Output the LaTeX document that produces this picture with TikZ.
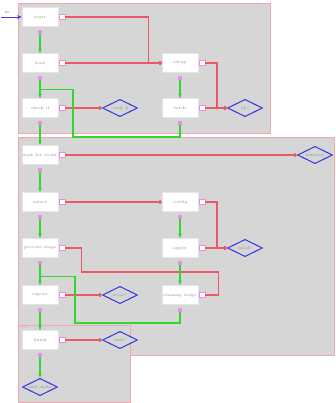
\documentclass[tikz,border=0pt]{standalone}
\usepackage{xcolor}
\usepackage{tikz}
\usetikzlibrary{shapes.geometric, arrows.meta, positioning, calc}
\definecolor{framefill}{HTML}{D6D6D6}
\definecolor{framedraw}{HTML}{F2A7B0}
\definecolor{ctrldraw}{HTML}{EC5866}
\definecolor{datadraw}{HTML}{2ED82E}
\definecolor{decdraw}{HTML}{3A3AE0}
\definecolor{portdraw}{HTML}{E58FE5}
\definecolor{txtgray}{HTML}{8A8A8A}
\tikzset{
  frm/.style={fill=framefill, draw=framedraw, line width=0.6pt},
  frmlab/.style={font=\fontsize{3}{3.5}\selectfont, text=framedraw, anchor=north west, inner sep=1pt},
  blk/.style={rectangle, draw=black!10, fill=white, font=\fontsize{3.5}{4}\selectfont, text=txtgray, minimum width=1.08cm, minimum height=0.57cm, inner sep=1pt},
  dec/.style={diamond, aspect=2, draw=decdraw, fill=framefill, line width=0.9pt, font=\fontsize{3.5}{4}\selectfont, text=txtgray, minimum width=1.05cm, minimum height=0.52cm, inner sep=0pt},
  oport/.style={rectangle, draw=portdraw, fill=white, minimum size=0.16cm, inner sep=0pt, line width=0.4pt},
  dport/.style={rectangle, fill=portdraw, minimum size=0.11cm, inner sep=0pt},
  ctrl/.style={-{Circle[length=3.2pt]}, draw=ctrldraw, line width=1pt},
  data/.style={-{Stealth[length=4pt]}, draw=datadraw, line width=0.9pt},
  inarr/.style={-{Stealth[length=4pt]}, draw=decdraw, line width=0.8pt},
}
\begin{document}
\begin{tikzpicture}[x=0.03cm, y=-0.03cm]
  \useasboundingbox (0,0) rectangle (335,403);
  % frames
  \path[frm] (18,3) rectangle (270,133);
  \path[frm] (18,137) rectangle (334,355);
  \path[frm] (18,325) rectangle (130,402);
  \node[frmlab] (labA) at (19,3) {seq};
  \node[frmlab] (labB) at (19,137) {loop};
  \node[frmlab] (labC) at (19,325) {exit};
  % steps
  \node[blk] (start) at (40,17) {start};
  \node[blk] (load) at (40,63) {load};
  \node[blk] (check) at (40,108) {check if};
  \node[dec] (condA) at (120,108) {cond A};
  \node[blk] (setup) at (180,63) {setup};
  \node[blk] (fetch) at (180,108) {fetch};
  \node[dec] (okA) at (245,108) {ok?};
  \node[blk] (wait) at (40,155) {wait for event};
  \node[dec] (timeout) at (315,155) {timeout};
  \node[blk] (select) at (40,202) {select};
  \node[blk] (config) at (180,202) {config};
  \node[blk] (process) at (40,248) {process stage};
  \node[blk] (apply) at (180,248) {apply};
  \node[dec] (valid) at (245,248) {valid?};
  \node[blk] (report) at (40,295) {report};
  \node[dec] (errA) at (120,295) {error?};
  \node[blk] (cleanup) at (180,295) {cleanup stage};
  \node[blk] (finish) at (40,340) {finish};
  \node[dec] (endA) at (120,340) {end?};
  \node[dec] (exitS) at (40,387) {exit state};
  % ports
  \foreach \n in {start,load,check,setup,fetch,wait,select,config,process,apply,report,cleanup,finish} {
    \node[oport, anchor=west] (\n-o) at ($(\n.east)+(1,0)$) {};
    \node[dport, anchor=north] (\n-d) at ($(\n.south)+(0,3)$) {};
  }
  % input
  \coordinate (inpt) at (1,17);
  \node[font=\fontsize{3}{3.5}\selectfont, text=decdraw, inner sep=0pt] (inlab) at (7,12) {in};
  \draw[inarr] (inpt) -- (start.west);
  % control flow
  \draw[ctrl] (start-o) -| ($(setup.west)+(-13,0)$) -- (setup.west);
  \draw[ctrl] (load-o) -- (setup.west);
  \draw[ctrl] (check-o) -- (condA.west);
  \draw[ctrl] (setup-o) -| ($(okA.west)+(-10,0)$) -- (okA.west);
  \draw[ctrl] (fetch-o) -- (okA.west);
  \draw[ctrl] (wait-o) -- (timeout.west);
  \draw[ctrl] (select-o) -- (config.west);
  \draw[ctrl] (config-o) -| ($(valid.west)+(-10,0)$) -- (valid.west);
  \draw[ctrl] (apply-o) -- (valid.west);
  \draw[ctrl, -] (process-o) -| ($(process-o)+(19,24)$) -| ($(cleanup-o)+(16,0)$) -- (cleanup-o);
  \draw[ctrl] (report-o) -- (errA.west);
  \draw[ctrl] (finish-o) -- (endA.west);
  % data flow
  \draw[data] (start-d) -- (load.north);
  \draw[data] (load-d) -- (check.north);
  \draw[data] (check-d) -- (wait.north);
  \draw[data] (wait-d) -- (select.north);
  \draw[data] (select-d) -- (process.north);
  \draw[data] (process-d) -- (report.north);
  \draw[data] (report-d) -- (finish.north);
  \draw[data] (finish-d) -- (exitS.north);
  \draw[data] (setup-d) -- (fetch.north);
  \draw[data] (config-d) -- (apply.north);
  \draw[data] (apply-d) -- (cleanup.north);
  \draw[data, -] (fetch-d) |- (73,137) |- ($(check.north)+(0,-9)$);
  \draw[data, -] (cleanup-d) |- (75,323) |- ($(report.north)+(0,-9)$);
\end{tikzpicture}
\end{document}
